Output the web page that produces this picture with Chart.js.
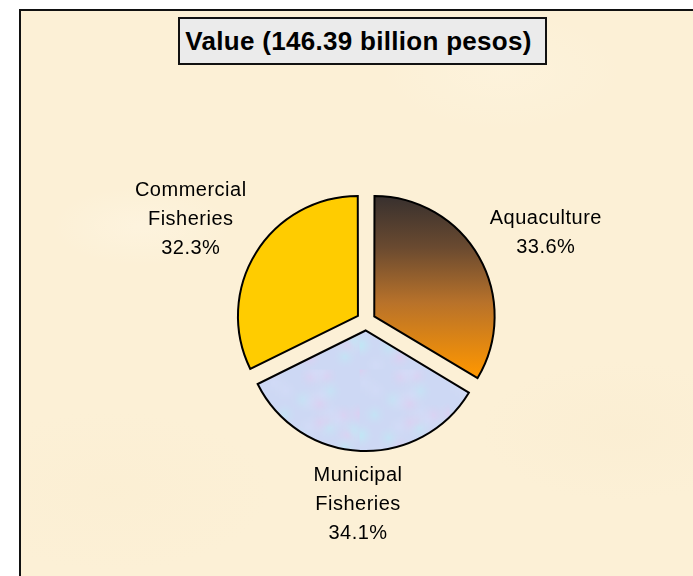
<!DOCTYPE html>
<html>
<head>
<meta charset="utf-8">
<script src="https://cdn.jsdelivr.net/npm/chart.js@4"></script>
<style>
  body { margin:0; background:#fff; }
  #wrap { position:relative; width:693px; height:576px; overflow:hidden; }
  #frame {
    position:absolute; left:19px; top:9px; width:700px; height:600px;
    border-left:2px solid #111; border-top:2px solid #111;
    background:
      radial-gradient(ellipse 90px 40px at 120px 215px, rgba(255,249,236,0.35), rgba(255,249,236,0)),
      radial-gradient(ellipse 120px 60px at 480px 60px, rgba(255,248,232,0.3), rgba(255,248,232,0)),
      radial-gradient(ellipse 140px 70px at 600px 420px, rgba(248,234,204,0.3), rgba(248,234,204,0)),
      radial-gradient(ellipse 160px 80px at 90px 480px, rgba(250,236,206,0.3), rgba(250,236,206,0)),
      #fcf0d6;
  }
  #title {
    position:absolute; left:178px; top:17px; width:357px; height:44px;
    border:2px solid #111; background:#ebebeb;
    font:bold 26px "Liberation Sans", Arial, sans-serif; color:#000; letter-spacing:0.3px;
    line-height:44px; text-align:center; padding-right:8px; box-sizing:content-box;
  }
  canvas { position:absolute; left:0; top:0; }
</style>
</head>
<body>
<div id="wrap">
  <div id="frame"></div>
  <div id="title">Value (146.39 billion pesos)</div>
  <canvas id="myChart" width="693" height="576"></canvas>
</div>
<script>
// slices clockwise from 12 o'clock
const categories = ['Aquaculture', 'Municipal Fisheries', 'Commercial Fisheries'];
const labelLines = [['Aquaculture'], ['Municipal', 'Fisheries'], ['Commercial', 'Fisheries']];
const shares = [33.6, 34.1, 32.3];
const pctLabels = ['33.6%', '34.1%', '32.3%'];

// marbled lavender/blue fill for the municipal slice
function marble(){
    var c = document.createElement('canvas');
    c.width = 90; c.height = 90;
    var g = c.getContext('2d');
    g.fillStyle = '#cdd8f4';
    g.fillRect(0, 0, 90, 90);
    var cols = ['rgba(232,200,240,0.55)', 'rgba(188,236,246,0.55)', 'rgba(214,222,250,0.5)'];
    for (let i = 0; i < 30; i++){
        var x = (Math.sin(i * 12.9898) * 43758.5453) % 1; x = Math.abs(x) * 90;
        var y = (Math.sin(i * 78.233) * 12345.678) % 1; y = Math.abs(y) * 90;
        var rg = g.createRadialGradient(x, y, 0, x, y, 14);
        rg.addColorStop(0, cols[i % 3]);
        rg.addColorStop(1, 'rgba(210,220,245,0)');
        g.fillStyle = rg;
        g.fillRect(0, 0, 90, 90);
    }
    return document.getElementById('myChart').getContext('2d').createPattern(c, 'repeat');
}
var municipalFill = marble();

function sliceFill(ctx){
    if (ctx.dataIndex === 1) return municipalFill;
    if (ctx.dataIndex === 2) return '#ffcc00';
    var chart = ctx.chart;
    var area = chart.chartArea;
    if (!area) return '#e08820';
    var cy = (area.top + area.bottom) / 2;
    var gr = chart.ctx.createLinearGradient(0, cy - 124, 0, cy + 60);
    gr.addColorStop(0, '#342e2e');
    gr.addColorStop(0.3, '#6a4a30');
    gr.addColorStop(0.6, '#b8722a');
    gr.addColorStop(1, '#ff9700');
    return gr;
}

// outside labels placed off each slice's mid angle
const sliceLabels = {
    id: 'sliceLabels',
    afterDatasetsDraw(chart, args, opts){
        var ctx = chart.ctx;
        var meta = chart.getDatasetMeta(0);
        ctx.save();
        ctx.font = '20px "Liberation Sans", Arial, sans-serif';
        ctx.letterSpacing = '0.5px';
        ctx.fillStyle = '#000';
        ctx.textAlign = 'center';
        ctx.textBaseline = 'alphabetic';
        meta.data.forEach(function(arc, i){
            var p = arc.getProps(['x', 'y', 'startAngle', 'endAngle', 'outerRadius'], true);
            var mid = (p.startAngle + p.endAngle) / 2;
            var cx = Math.cos(mid), sy = Math.sin(mid);
            var lines = labelLines[i].concat([pctLabels[i]]);
            var w = Math.max.apply(null, lines.map(function(t){ return ctx.measureText(t).width; }));
            var h = (lines.length - 1) * opts.lineHeight + opts.capHeight;
            // chart.js moves an offset slice by offset/4
            var d = p.outerRadius + arc.options.offset / 4 + opts.gap;
            var bx = p.x + cx * d + cx * w / 2;
            var by = p.y + sy * d + sy * h / 2 + opts.nudgeY;
            var base = by - h / 2 + opts.capHeight;
            lines.forEach(function(t, k){
                ctx.fillText(t, bx, base + k * opts.lineHeight);
            });
        });
        ctx.restore();
    }
};

var ctx = document.getElementById('myChart').getContext('2d');
var myChart = new Chart(ctx, {
    type: 'pie',
    data: {
        labels: categories,
        datasets: [{
            data: shares,
            backgroundColor: sliceFill,
            borderColor: '#000',
            borderWidth: 2,
            borderJoinStyle: 'miter',
            offset: 38,
        }],
    },
    options: {
        responsive: false,
        animation: false,
        events: [],
        radius: 119,
        layout: { padding: { left: 236, right: 197, top: 191, bottom: 125 } },
        plugins: {
            legend: { display: false },
            tooltip: { enabled: false },
            sliceLabels: { gap: 22, lineHeight: 29, capHeight: 15, nudgeY: -5 },
        },
    },
    plugins: [sliceLabels],
});
</script>
</body>
</html>
